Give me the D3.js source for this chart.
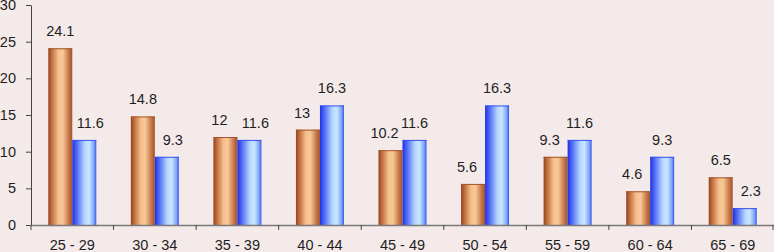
<!DOCTYPE html>
<html>
<head>
<meta charset="utf-8">
<script src="https://cdn.jsdelivr.net/npm/d3@7"></script>
<style>
  body { margin: 0; background: #f5eaea; }
  svg { display: block; font-family: "Liberation Sans", Arial, sans-serif; }
</style>
</head>
<body>
<div id="chart"></div>
<script>
// age groups and the two series
const categories = ["25 - 29", "30 - 34", "35 - 39", "40 - 44", "45 - 49", "50 - 54", "55 - 59", "60 - 64", "65 - 69"];
const seriesA = [24.1, 14.8, 12, 13, 10.2, 5.6, 9.3, 4.6, 6.5];   // orange
const seriesB = [11.6, 9.3, 11.6, 16.3, 11.6, 16.3, 11.6, 9.3, 2.3]; // blue
const yTicks = [0, 5, 10, 15, 20, 25, 30];

const width = 774, height = 252,
      margin = ({top: 5, right: 0, left: 31, bottom: 27});
const fontSize = 14.5, textColor = "#1e1e1e";

const svg = d3.select("#chart")
    .append("svg")
    .attr("width", width)
    .attr("height", height);

// gradients for the cylinder look
const defs = svg.append("defs");
const gradA = defs.append("linearGradient").attr("id", "gradA");
[["0%", "#97421c"], ["15%", "#c0703f"], ["42%", "#f6c08d"], ["60%", "#f8c896"], ["86%", "#c47447"], ["100%", "#a3522c"]]
  .forEach(s => gradA.append("stop").attr("offset", s[0]).attr("stop-color", s[1]));
const gradB = defs.append("linearGradient").attr("id", "gradB");
[["0%", "#1f30e4"], ["15%", "#4560f3"], ["52%", "#b5d6ff"], ["70%", "#cae7ff"], ["90%", "#7fa6fb"], ["100%", "#3550ee"]]
  .forEach(s => gradB.append("stop").attr("offset", s[0]).attr("stop-color", s[1]));

const x = d3.scaleBand()
    .domain(categories)
    .range([margin.left, width - margin.right]);

const inner = d3.scaleBand()
    .domain(["a", "b"])
    .range([0, 48]);

const groupOffset = (x.bandwidth() - 48) / 2;

const y = d3.scaleLinear()
    .domain([0, 30])
    .range([height - margin.bottom, margin.top]);

// y axis
svg.append("g")
    .attr("transform", `translate(${margin.left},0)`)
    .call(d3.axisLeft(y).tickValues(yTicks).tickSize(5).tickPadding(10).tickSizeOuter(0))
    .call(g => g.select(".domain").attr("stroke", "#444"))
    .call(g => g.selectAll(".tick line").attr("stroke", "#444"))
    .call(g => g.selectAll("text").attr("font-size", fontSize).attr("fill", textColor)
        .attr("font-family", "Liberation Sans, Arial, sans-serif"));

// bars
const data = categories.map((c, i) => ({cat: c, a: seriesA[i], b: seriesB[i]}));

const group = svg.selectAll(".grp")
    .data(data)
    .join("g")
    .attr("class", "grp")
    .attr("transform", d => `translate(${x(d.cat) + groupOffset},0)`);

group.append("rect")
    .attr("x", inner("a"))
    .attr("y", d => y(d.a))
    .attr("width", inner.bandwidth())
    .attr("height", d => y(0) - y(d.a))
    .attr("fill", "url(#gradA)");

group.append("rect")
    .attr("x", inner("b"))
    .attr("y", d => y(d.b))
    .attr("width", inner.bandwidth())
    .attr("height", d => y(0) - y(d.b))
    .attr("fill", "url(#gradB)");

// thin darker rim on top of each bar
group.append("line")
    .attr("x1", inner("a")).attr("x2", inner("a") + inner.bandwidth())
    .attr("y1", d => y(d.a) + 0.5).attr("y2", d => y(d.a) + 0.5)
    .attr("stroke", "#a4552e");
group.append("line")
    .attr("x1", inner("b")).attr("x2", inner("b") + inner.bandwidth())
    .attr("y1", d => y(d.b) + 0.5).attr("y2", d => y(d.b) + 0.5)
    .attr("stroke", "#3a55ec");

// value labels - pushed sideways when the neighbour bar is about as tall
const nudge = 6;
group.append("text")
    .text(d => d.a)
    .attr("x", d => inner("a") + inner.bandwidth() / 2 - (d.b > d.a - 1 ? nudge : 0))
    .attr("y", d => y(d.a) - 12)
    .attr("text-anchor", "middle")
    .attr("font-size", fontSize)
    .attr("fill", textColor);

group.append("text")
    .text(d => d.b)
    .attr("x", d => inner("b") + inner.bandwidth() / 2 + (d.a > d.b - 1 ? nudge : 0))
    .attr("y", d => y(d.b) - 12)
    .attr("text-anchor", "middle")
    .attr("font-size", fontSize)
    .attr("fill", textColor);

// x axis: labels at band centres, ticks at band edges
svg.append("g")
    .attr("transform", `translate(0,${y(0)})`)
    .call(d3.axisBottom(x).tickSize(0).tickPadding(15).tickSizeOuter(0))
    .call(g => g.select(".domain").attr("stroke", "#7a7a7a").attr("stroke-width", 1.5))
    .call(g => g.selectAll("text").attr("font-size", fontSize).attr("fill", textColor)
        .attr("font-family", "Liberation Sans, Arial, sans-serif"));

const edges = categories.map(c => x(c)).concat([x.range()[1] - 1]);
svg.append("g")
    .selectAll("line")
    .data(edges)
    .join("line")
    .attr("x1", d => d).attr("x2", d => d)
    .attr("y1", y(0)).attr("y2", y(0) + 5)
    .attr("stroke", "#444");
</script>
</body>
</html>
